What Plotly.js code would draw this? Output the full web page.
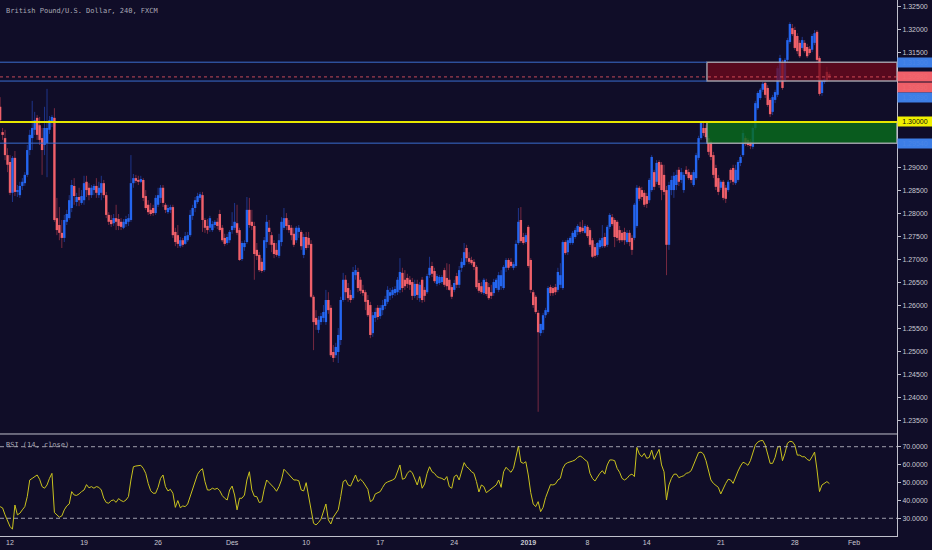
<!DOCTYPE html>
<html><head><meta charset="utf-8">
<script src="https://cdn.plot.ly/plotly-3.0.1.min.js"></script>
<style>html,body{margin:0;padding:0;background:#100d28;}#chart{width:932px;height:550px;}</style>
</head><body><div id="chart"></div>
<script>
// GBP/USD 4h candles, bar 0 = 12 Nov 00:00 (first visible bar is -4)
const opens=[
1.3033,1.2978,1.2965,1.2928,1.2913,1.2846,1.2922,1.2848,1.2841,1.2861,
1.2867,1.2885,1.2939,1.2965,1.2983,1.3009,1.2993,1.2965,1.2950,1.2954,
1.2983,1.3002,1.3009,1.2791,1.2776,1.2759,1.2748,1.2783,1.2791,1.2813,
1.2861,1.2826,1.2837,1.2824,1.2830,1.2870,1.2857,1.2841,1.2852,1.2861,
1.2841,1.2846,1.2867,1.2841,1.2798,1.2787,1.2780,1.2791,1.2789,1.2783,
1.2770,1.2778,1.2783,1.2787,1.2867,1.2878,1.2874,1.2870,1.2874,1.2839,
1.2820,1.2809,1.2813,1.2802,1.2820,1.2835,1.2857,1.2820,1.2804,1.2809,
1.2815,1.2761,1.2754,1.2730,1.2743,1.2735,1.2743,1.2754,1.2796,1.2813,
1.2826,1.2835,1.2841,1.2787,1.2774,1.2770,1.2765,1.2776,1.2783,1.2800,
1.2770,1.2748,1.2737,1.2743,1.2765,1.2770,1.2780,1.2765,1.2702,1.2728,
1.2739,1.2809,1.2783,1.2774,1.2722,1.2711,1.2696,1.2678,1.2739,1.2770,
1.2754,1.2737,1.2722,1.2709,1.2739,1.2770,1.2791,1.2776,1.2770,1.2757,
1.2743,1.2761,1.2761,1.2711,1.2750,1.2748,1.2735,1.2620,1.2574,1.2548,
1.2565,1.2574,1.2565,1.2613,1.2596,1.2500,1.2493,1.2500,1.2526,1.2613,
1.2657,1.2639,1.2624,1.2617,1.2667,1.2674,1.2657,1.2635,1.2630,1.2613,
1.2602,1.2541,1.2574,1.2596,1.2578,1.2591,1.2600,1.2609,1.2622,1.2624,
1.2628,1.2630,1.2635,1.2672,1.2657,1.2661,1.2657,1.2652,1.2622,1.2648,
1.2617,1.2657,1.2635,1.2630,1.2667,1.2687,1.2676,1.2648,1.2650,1.2652,
1.2678,1.2661,1.2657,1.2641,1.2635,1.2665,1.2646,1.2683,1.2689,1.2726,
1.2704,1.2700,1.2696,1.2685,1.2650,1.2643,1.2628,1.2652,1.2641,1.2630,
1.2628,1.2639,1.2635,1.2643,1.2639,1.2683,1.2700,1.2696,1.2683,1.2687,
1.2737,1.2787,1.2750,1.2739,1.2772,1.2700,1.2630,1.2620,1.2585,1.2541,
1.2548,1.2580,1.2587,1.2641,1.2639,1.2641,1.2635,1.2646,1.2639,1.2739,
1.2717,1.2737,1.2737,1.2750,1.2761,1.2772,1.2770,1.2759,1.2772,1.2765,
1.2743,1.2728,1.2711,1.2728,1.2730,1.2750,1.2733,1.2772,1.2793,1.2787,
1.2783,1.2765,1.2759,1.2761,1.2739,1.2759,1.2748,1.2748,1.2774,1.2857,
1.2852,1.2846,1.2839,1.2830,1.2852,1.2891,1.2870,1.2913,1.2907,1.2885,
1.2852,1.2733,1.2852,1.2852,1.2863,1.2896,1.2874,1.2852,1.2896,1.2891,
1.2885,1.2863,1.2878,1.2922,1.2965,1.2987,1.2987,1.2965,1.2957,1.2928,
1.2900,1.2878,1.2857,1.2870,1.2857,1.2852,1.2896,1.2900,1.2867,1.2874,
1.2911,1.2928,1.2965,1.2961,1.2957,1.2946,1.2987,1.3030,1.3052,1.3070,
1.3085,1.3074,1.3048,1.3022,1.3048,1.3059,1.3091,1.3128,1.3091,1.3135,
1.3174,1.3204,1.3200,1.3187,1.3172,1.3161,1.3172,1.3163,1.3159,1.3157,
1.3172,1.3196,1.3139,1.3063,1.3087,1.3109,1.3104];
const highs=[
1.3054,1.2987,1.2983,1.2943,1.2928,1.2926,1.2937,1.2863,1.2870,1.2878,
1.2891,1.2950,1.2983,1.3046,1.3022,1.3015,1.3011,1.2987,1.3033,1.3072,
1.3013,1.3015,1.3030,1.2835,1.2815,1.2787,1.2798,1.2809,1.2841,1.2874,
1.2878,1.2846,1.2857,1.2852,1.2883,1.2883,1.2867,1.2863,1.2865,1.2878,
1.2870,1.2883,1.2874,1.2848,1.2804,1.2798,1.2800,1.2820,1.2800,1.2791,
1.2789,1.2796,1.2800,1.2928,1.2887,1.2885,1.2883,1.2883,1.2878,1.2852,
1.2830,1.2824,1.2820,1.2841,1.2857,1.2863,1.2863,1.2824,1.2820,1.2820,
1.2820,1.2770,1.2776,1.2750,1.2748,1.2761,1.2761,1.2809,1.2820,1.2837,
1.2846,1.2848,1.2848,1.2791,1.2789,1.2796,1.2785,1.2787,1.2791,1.2809,
1.2776,1.2757,1.2757,1.2765,1.2804,1.2824,1.2820,1.2770,1.2741,1.2743,
1.2837,1.2835,1.2809,1.2783,1.2737,1.2717,1.2704,1.2750,1.2798,1.2787,
1.2761,1.2743,1.2737,1.2757,1.2793,1.2813,1.2802,1.2787,1.2776,1.2770,
1.2774,1.2776,1.2765,1.2757,1.2761,1.2761,1.2743,1.2624,1.2591,1.2578,
1.2585,1.2602,1.2635,1.2630,1.2602,1.2515,1.2520,1.2552,1.2620,1.2672,
1.2667,1.2650,1.2635,1.2685,1.2689,1.2683,1.2663,1.2646,1.2635,1.2624,
1.2609,1.2587,1.2596,1.2602,1.2602,1.2613,1.2622,1.2643,1.2639,1.2641,
1.2643,1.2663,1.2704,1.2683,1.2678,1.2670,1.2665,1.2661,1.2657,1.2657,
1.2652,1.2663,1.2641,1.2670,1.2707,1.2696,1.2683,1.2670,1.2667,1.2667,
1.2683,1.2693,1.2691,1.2646,1.2657,1.2672,1.2687,1.2704,1.2737,1.2733,
1.2717,1.2707,1.2702,1.2689,1.2657,1.2652,1.2661,1.2659,1.2650,1.2646,
1.2659,1.2661,1.2674,1.2678,1.2689,1.2704,1.2704,1.2704,1.2696,1.2743,
1.2813,1.2815,1.2759,1.2759,1.2776,1.2704,1.2635,1.2624,1.2591,1.2561,
1.2585,1.2596,1.2643,1.2646,1.2643,1.2648,1.2683,1.2693,1.2743,1.2743,
1.2748,1.2752,1.2763,1.2770,1.2778,1.2783,1.2787,1.2778,1.2776,1.2770,
1.2748,1.2735,1.2739,1.2748,1.2776,1.2759,1.2776,1.2802,1.2800,1.2791,
1.2787,1.2774,1.2765,1.2770,1.2765,1.2765,1.2754,1.2824,1.2863,1.2861,
1.2859,1.2852,1.2846,1.2878,1.2928,1.2896,1.2917,1.2917,1.2913,1.2907,
1.2861,1.2870,1.2883,1.2891,1.2896,1.2902,1.2900,1.2891,1.2904,1.2898,
1.2891,1.2896,1.2933,1.2970,1.3000,1.3000,1.2993,1.2970,1.2961,1.2935,
1.2907,1.2885,1.2874,1.2874,1.2863,1.2874,1.2900,1.2907,1.2907,1.2917,
1.2928,1.2983,1.2970,1.2965,1.2963,1.2991,1.3046,1.3067,1.3074,1.3087,
1.3087,1.3080,1.3052,1.3059,1.3070,1.3122,1.3146,1.3135,1.3139,1.3183,
1.3217,1.3213,1.3207,1.3193,1.3178,1.3185,1.3178,1.3170,1.3165,1.3191,
1.3200,1.3200,1.3143,1.3093,1.3098,1.3120,1.3109];
const lows=[
1.3000,1.2961,1.2917,1.2891,1.2841,1.2826,1.2839,1.2837,1.2835,1.2852,
1.2861,1.2880,1.2928,1.2939,1.2972,1.2961,1.2950,1.2885,1.2928,1.2880,
1.2974,1.2989,1.2783,1.2754,1.2743,1.2726,1.2739,1.2776,1.2787,1.2804,
1.2820,1.2817,1.2817,1.2820,1.2820,1.2837,1.2830,1.2835,1.2841,1.2835,
1.2835,1.2830,1.2835,1.2791,1.2776,1.2772,1.2774,1.2765,1.2765,1.2765,
1.2767,1.2772,1.2774,1.2783,1.2857,1.2867,1.2863,1.2867,1.2828,1.2809,
1.2798,1.2796,1.2796,1.2798,1.2815,1.2824,1.2815,1.2802,1.2800,1.2802,
1.2748,1.2730,1.2726,1.2726,1.2728,1.2733,1.2739,1.2750,1.2787,1.2804,
1.2822,1.2830,1.2761,1.2759,1.2757,1.2761,1.2761,1.2770,1.2767,1.2761,
1.2739,1.2730,1.2733,1.2737,1.2757,1.2765,1.2754,1.2698,1.2698,1.2720,
1.2735,1.2770,1.2765,1.2657,1.2700,1.2674,1.2672,1.2674,1.2726,1.2733,
1.2717,1.2704,1.2707,1.2704,1.2730,1.2765,1.2765,1.2759,1.2743,1.2728,
1.2737,1.2748,1.2722,1.2704,1.2722,1.2726,1.2617,1.2504,1.2548,1.2541,
1.2559,1.2565,1.2559,1.2583,1.2489,1.2478,1.2487,1.2476,1.2515,1.2609,
1.2613,1.2609,1.2607,1.2613,1.2657,1.2630,1.2626,1.2622,1.2591,1.2576,
1.2530,1.2533,1.2565,1.2570,1.2572,1.2580,1.2593,1.2604,1.2613,1.2617,
1.2622,1.2624,1.2628,1.2630,1.2635,1.2639,1.2635,1.2613,1.2617,1.2613,
1.2609,1.2607,1.2609,1.2626,1.2661,1.2663,1.2650,1.2643,1.2646,1.2648,
1.2641,1.2635,1.2633,1.2615,1.2630,1.2639,1.2639,1.2674,1.2685,1.2696,
1.2691,1.2689,1.2678,1.2637,1.2628,1.2626,1.2624,1.2622,1.2613,1.2615,
1.2622,1.2635,1.2630,1.2635,1.2635,1.2674,1.2678,1.2683,1.2678,1.2683,
1.2733,1.2737,1.2733,1.2735,1.2683,1.2628,1.2596,1.2583,1.2370,1.2535,
1.2541,1.2574,1.2583,1.2622,1.2622,1.2624,1.2630,1.2639,1.2635,1.2711,
1.2711,1.2733,1.2733,1.2746,1.2754,1.2757,1.2759,1.2757,1.2748,1.2728,
1.2704,1.2704,1.2707,1.2724,1.2726,1.2726,1.2728,1.2767,1.2774,1.2728,
1.2741,1.2737,1.2739,1.2733,1.2735,1.2730,1.2711,1.2743,1.2770,1.2828,
1.2830,1.2815,1.2813,1.2824,1.2848,1.2852,1.2865,1.2857,1.2830,1.2841,
1.2667,1.2722,1.2841,1.2835,1.2852,1.2861,1.2867,1.2846,1.2883,1.2874,
1.2867,1.2859,1.2874,1.2917,1.2961,1.2970,1.2963,1.2928,1.2917,1.2878,
1.2852,1.2841,1.2852,1.2830,1.2824,1.2848,1.2867,1.2863,1.2863,1.2870,
1.2904,1.2924,1.2948,1.2946,1.2941,1.2941,1.2983,1.3026,1.3048,1.3065,
1.3052,1.3033,1.3011,1.3015,1.3041,1.3054,1.3085,1.3070,1.3087,1.3130,
1.3170,1.3187,1.3157,1.3148,1.3139,1.3157,1.3150,1.3139,1.3146,1.3152,
1.3167,1.3130,1.3057,1.3057,1.3083,1.3087,1.3091];
const closes=[
1.3004,1.2972,1.2928,1.2907,1.2846,1.2922,1.2848,1.2852,1.2861,1.2870,
1.2885,1.2939,1.2972,1.2987,1.3004,1.2972,1.2961,1.2939,1.2987,1.2987,
1.3004,1.3011,1.2787,1.2765,1.2759,1.2748,1.2787,1.2800,1.2830,1.2863,
1.2839,1.2837,1.2830,1.2839,1.2867,1.2852,1.2841,1.2857,1.2861,1.2846,
1.2857,1.2867,1.2841,1.2798,1.2783,1.2778,1.2791,1.2783,1.2774,1.2772,
1.2783,1.2789,1.2791,1.2867,1.2878,1.2872,1.2870,1.2876,1.2835,1.2813,
1.2804,1.2800,1.2802,1.2835,1.2841,1.2857,1.2824,1.2809,1.2813,1.2815,
1.2754,1.2739,1.2735,1.2743,1.2733,1.2752,1.2754,1.2798,1.2813,1.2830,
1.2839,1.2843,1.2787,1.2770,1.2765,1.2791,1.2778,1.2783,1.2774,1.2765,
1.2743,1.2735,1.2750,1.2761,1.2774,1.2783,1.2759,1.2700,1.2737,1.2737,
1.2809,1.2776,1.2774,1.2713,1.2709,1.2678,1.2676,1.2743,1.2783,1.2761,
1.2733,1.2713,1.2711,1.2743,1.2783,1.2791,1.2774,1.2765,1.2754,1.2733,
1.2770,1.2770,1.2730,1.2750,1.2726,1.2733,1.2620,1.2565,1.2559,1.2570,
1.2578,1.2587,1.2613,1.2591,1.2493,1.2487,1.2511,1.2537,1.2613,1.2657,
1.2630,1.2617,1.2613,1.2674,1.2678,1.2639,1.2633,1.2628,1.2609,1.2580,
1.2537,1.2580,1.2587,1.2576,1.2596,1.2602,1.2615,1.2635,1.2630,1.2635,
1.2637,1.2657,1.2674,1.2639,1.2643,1.2648,1.2646,1.2622,1.2648,1.2624,
1.2646,1.2613,1.2622,1.2665,1.2683,1.2670,1.2654,1.2665,1.2663,1.2663,
1.2646,1.2643,1.2635,1.2620,1.2650,1.2646,1.2678,1.2696,1.2717,1.2704,
1.2696,1.2693,1.2685,1.2641,1.2633,1.2630,1.2657,1.2626,1.2617,1.2622,
1.2652,1.2657,1.2667,1.2667,1.2685,1.2700,1.2683,1.2687,1.2691,1.2735,
1.2783,1.2741,1.2737,1.2754,1.2687,1.2635,1.2602,1.2587,1.2543,1.2561,
1.2580,1.2591,1.2639,1.2628,1.2628,1.2630,1.2674,1.2667,1.2739,1.2715,
1.2743,1.2748,1.2759,1.2765,1.2774,1.2761,1.2763,1.2774,1.2752,1.2733,
1.2707,1.2709,1.2737,1.2743,1.2748,1.2730,1.2772,1.2798,1.2778,1.2750,
1.2748,1.2743,1.2743,1.2743,1.2759,1.2739,1.2722,1.2820,1.2857,1.2833,
1.2837,1.2820,1.2822,1.2874,1.2924,1.2859,1.2911,1.2863,1.2852,1.2848,
1.2733,1.2863,1.2874,1.2883,1.2885,1.2870,1.2891,1.2885,1.2887,1.2878,
1.2874,1.2891,1.2928,1.2965,1.2998,1.2976,1.2967,1.2935,1.2924,1.2885,
1.2859,1.2848,1.2870,1.2835,1.2833,1.2870,1.2874,1.2870,1.2896,1.2913,
1.2924,1.2976,1.2954,1.2950,1.2948,1.2987,1.3041,1.3063,1.3070,1.3083,
1.3059,1.3037,1.3017,1.3054,1.3065,1.3117,1.3139,1.3074,1.3135,1.3178,
1.3213,1.3191,1.3161,1.3154,1.3143,1.3178,1.3154,1.3143,1.3150,1.3187,
1.3193,1.3135,1.3061,1.3089,1.3093,1.3091,1.3098];
// RSI(14, close)
const rsi=[
36.5,35.8,31.9,28.2,25.4,23.9,37.4,31.9,32.8,34.7,
36.5,42.1,51.4,52.3,53.3,54.2,51.8,47.7,46.8,48.6,
52.3,55.1,33.2,31.9,30.6,31.3,34.7,36.9,38.0,44.9,
43.0,42.8,43.6,44.9,45.8,48.8,47.0,47.7,46.8,47.7,
47.3,45.8,41.2,38.8,38.4,39.9,40.2,38.9,41.0,39.9,
39.3,40.2,42.1,51.4,58.8,59.2,59.4,59.6,57.9,55.1,
49.5,45.4,44.0,44.0,47.3,52.3,54.2,47.7,45.3,46.2,
44.0,36.1,39.9,35.9,36.9,36.5,38.0,42.1,47.3,51.4,
54.6,56.6,57.7,50.5,45.8,45.8,46.8,46.2,46.8,45.4,
42.7,41.2,40.2,45.8,48.0,43.0,34.7,41.2,41.2,43.0,
51.4,56.0,45.8,42.3,42.1,38.8,39.3,46.2,51.4,49.9,
48.6,47.0,45.1,47.7,51.4,57.4,56.0,54.6,52.9,51.4,
51.4,51.0,45.8,45.3,49.9,42.1,32.8,27.2,26.3,27.6,
29.5,33.7,38.0,29.1,26.8,30.6,32.8,34.7,42.1,50.5,
51.4,48.6,48.0,51.4,54.2,50.5,51.8,50.5,48.6,46.2,
39.3,40.2,43.6,44.3,44.9,47.3,49.5,50.3,50.8,51.4,
52.3,56.0,59.8,51.8,52.3,55.1,56.6,55.5,51.4,48.6,
53.3,46.8,49.2,55.1,58.8,56.0,55.1,53.3,52.7,52.3,
51.4,53.3,47.7,46.8,53.3,54.2,51.4,57.0,61.1,58.8,
57.7,56.0,55.1,50.5,44.7,48.6,47.7,44.3,45.3,46.2,
47.1,48.6,51.4,47.3,56.0,58.5,57.0,55.7,57.9,63.5,
70.4,61.4,60.7,61.6,54.2,44.3,38.0,36.5,39.3,33.7,
36.1,41.5,45.8,48.8,48.6,49.2,51.4,52.3,57.9,60.3,
61.1,61.4,62.0,62.6,64.0,64.8,64.0,62.6,61.6,55.1,
52.3,50.8,53.3,55.1,56.6,54.7,59.8,62.6,62.6,62.2,
57.9,55.7,52.3,51.4,52.3,54.0,54.7,53.3,69.6,65.9,
64.4,66.3,63.5,64.0,68.1,62.9,65.9,68.5,59.8,56.0,
40.2,48.6,52.3,54.6,54.7,52.7,53.3,53.8,55.1,55.5,
56.6,59.8,64.0,66.7,67.0,65.9,62.2,56.6,51.4,49.5,
48.4,47.3,43.6,46.8,49.5,51.8,51.4,49.5,53.6,56.4,
59.2,61.3,60.7,59.6,62.2,66.7,70.9,72.6,73.3,73.5,
70.9,65.9,60.7,60.7,64.0,69.6,70.4,62.2,66.3,71.9,
73.0,72.8,70.9,65.3,65.3,64.4,64.4,62.9,62.2,64.4,
67.0,57.0,44.9,48.6,49.5,50.5,49.4];

const firstBar=-4;
const tickBars=[0,30,60,90,120,150,180,210,234,258,288,318,342];
const tickLabels=['12','19','26','Des','10','17','24','<b>2019</b>','8','14','21','28','Feb'];
const rsiTicks=[30,40,50,60,70];
const rsiBands=[30,70];
const supplyZone=[1.3089,1.3130];
const demandZone=[1.2954,1.3000];
const keyLevel=1.3000;
const zoneStartBar=282.4;

const XR=[-4.05,359.4];
const bars=closes.map((_,k)=>k+firstBar);
const lastClose=closes[closes.length-1];

function segs(sel,lo,hi,minH){
  const x=[],y=[];
  bars.forEach((b,k)=>{
    if(!sel(k))return;
    let a=lo[k],c=hi[k];
    if(minH && Math.abs(c-a)<minH){const m=(a+c)/2;a=m-minH/2;c=m+minH/2;}
    x.push(b,b,null);y.push(a,c,null);
  });
  return {x,y};
}
const up=k=>closes[k]>=opens[k], dn=k=>closes[k]<opens[k];
const wU=segs(up,lows,highs), wD=segs(dn,lows,highs);
const bU=segs(up,opens,closes,0.00008), bD=segs(dn,closes,opens,0.00008);

const BLUE='#2466f0', RED='#f0606a';
const traces=[
 {type:'scatter',mode:'lines',x:wU.x,y:wU.y,line:{color:'rgba(40,80,205,0.6)',width:1},hoverinfo:'skip'},
 {type:'scatter',mode:'lines',x:wD.x,y:wD.y,line:{color:'rgba(220,70,90,0.5)',width:1},hoverinfo:'skip'},
 {type:'scatter',mode:'lines',x:bU.x,y:bU.y,line:{color:BLUE,width:2.4},hoverinfo:'skip'},
 {type:'scatter',mode:'lines',x:bD.x,y:bD.y,line:{color:RED,width:2.4},hoverinfo:'skip'},
 {type:'scatter',mode:'lines',x:bars,y:rsi,xaxis:'x',yaxis:'y2',line:{color:'#c9c21e',width:1},hoverinfo:'skip'}
];

const SPLIT=0.1903;
const GRAY='#c0c0cc';
const shapes=[
 {type:'rect',xref:'x',yref:'y',x0:zoneStartBar,x1:XR[1],y0:supplyZone[0],y1:supplyZone[1],fillcolor:'rgba(112,8,28,0.76)',line:{color:'rgba(170,170,180,0.9)',width:1.5},layer:'above'},
 {type:'rect',xref:'x',yref:'y',x0:zoneStartBar,x1:XR[1],y0:demandZone[0],y1:demandZone[1],fillcolor:'rgba(8,108,28,0.82)',line:{color:'rgba(170,170,180,0.9)',width:1.5},layer:'above'},
 {type:'line',xref:'x',yref:'y',x0:XR[0],x1:zoneStartBar,y0:supplyZone[1],y1:supplyZone[1],line:{color:'#3a6ed0',width:1},layer:'above'},
 {type:'line',xref:'x',yref:'y',x0:XR[0],x1:zoneStartBar,y0:supplyZone[0],y1:supplyZone[0],line:{color:'#3a6ed0',width:1},layer:'above'},
 {type:'line',xref:'x',yref:'y',x0:XR[0],x1:zoneStartBar,y0:demandZone[0],y1:demandZone[0],line:{color:'#3a6ed0',width:1},layer:'above'},
 {type:'line',xref:'paper',yref:'y',x0:0,x1:1,y0:keyLevel,y1:keyLevel,line:{color:'#e6e600',width:2},layer:'above'},
 {type:'line',xref:'paper',yref:'y',x0:0,x1:1,y0:lastClose,y1:lastClose,line:{color:'rgba(240,90,100,0.8)',width:1,dash:'dot'},layer:'above'},
 {type:'line',xref:'paper',yref:'paper',x0:0,x1:1,y0:SPLIT,y1:SPLIT,line:{color:GRAY,width:1}},
 ...rsiBands.map(v=>({type:'line',xref:'paper',yref:'y2',x0:0,x1:1,y0:v,y1:v,line:{color:'rgba(185,185,195,0.85)',width:1,dash:'4px,3px'}}))
];

function priceLabel(val,bg,fg,shift){
  return {xref:'paper',yref:'y',x:1,y:val,xanchor:'left',yanchor:'middle',yshift:shift,text:val.toFixed(5),
    showarrow:false,bgcolor:bg,width:34,height:9,borderpad:0,align:'center',
    font:{family:'Liberation Sans, Arial, sans-serif',size:7,color:fg}};
}
const annotations=[
 {xref:'paper',yref:'paper',x:0.005,y:0.980,xanchor:'left',yanchor:'middle',showarrow:false,
  text:'British Pound/U.S. Dollar, 240, FXCM',font:{family:'DejaVu Sans Mono, monospace',size:7,color:'#a8a8b4'}},
 {xref:'paper',yref:'paper',x:0.005,y:0.1698,xanchor:'left',yanchor:'middle',showarrow:false,
  text:'RSI (14, close)',font:{family:'DejaVu Sans Mono, monospace',size:7,color:'#a8a8b4'}},
 priceLabel(supplyZone[1],'#3d7ee6','#4a86e6',0),
 priceLabel(lastClose,'#f0606a','#f26a70',0),
 priceLabel(supplyZone[0],'#ee5f68','#f06a70',-6.5),
 priceLabel(supplyZone[0],'#3d7ee6','#4a86e6',-16),
 priceLabel(keyLevel,'#f0f000','#111111',0),
 priceLabel(demandZone[0],'#3d7ee6','#4a86e6',0)
];

const layout={
 width:932,height:550,margin:{l:0,r:35,t:0,b:14,pad:0},
 paper_bgcolor:'#100d28',plot_bgcolor:'#100d28',showlegend:false,
 font:{family:'Liberation Sans, Arial, sans-serif',size:7,color:'#c8c8d2'},
 xaxis:{range:XR,anchor:'y2',tickmode:'array',tickvals:tickBars,ticktext:tickLabels,showgrid:false,zeroline:false,
   showline:true,linecolor:GRAY,linewidth:1,ticks:'',tickfont:{size:7,color:'#c8c8d2'},fixedrange:true},
 yaxis:{domain:[SPLIT,1],range:[1.23217,1.32652],side:'right',anchor:'x',tick0:1.235,dtick:0.005,tickformat:'.5f',
   showgrid:false,zeroline:false,showline:true,linecolor:GRAY,linewidth:1,ticks:'outside',ticklen:3,tickcolor:GRAY,
   tickfont:{size:7,color:'#c8c8d2'}},
 yaxis2:{domain:[0,SPLIT],range:[20.1,77.1],side:'right',anchor:'x',tickmode:'array',tickvals:rsiTicks,tickformat:'.4f',
   showgrid:false,zeroline:false,showline:true,linecolor:GRAY,linewidth:1,ticks:'outside',ticklen:3,tickcolor:GRAY,
   tickfont:{size:7,color:'#c8c8d2'}},
 shapes:shapes,annotations:annotations
};
Plotly.newPlot('chart',traces,layout,{staticPlot:true,displayModeBar:false});
</script></body></html>
